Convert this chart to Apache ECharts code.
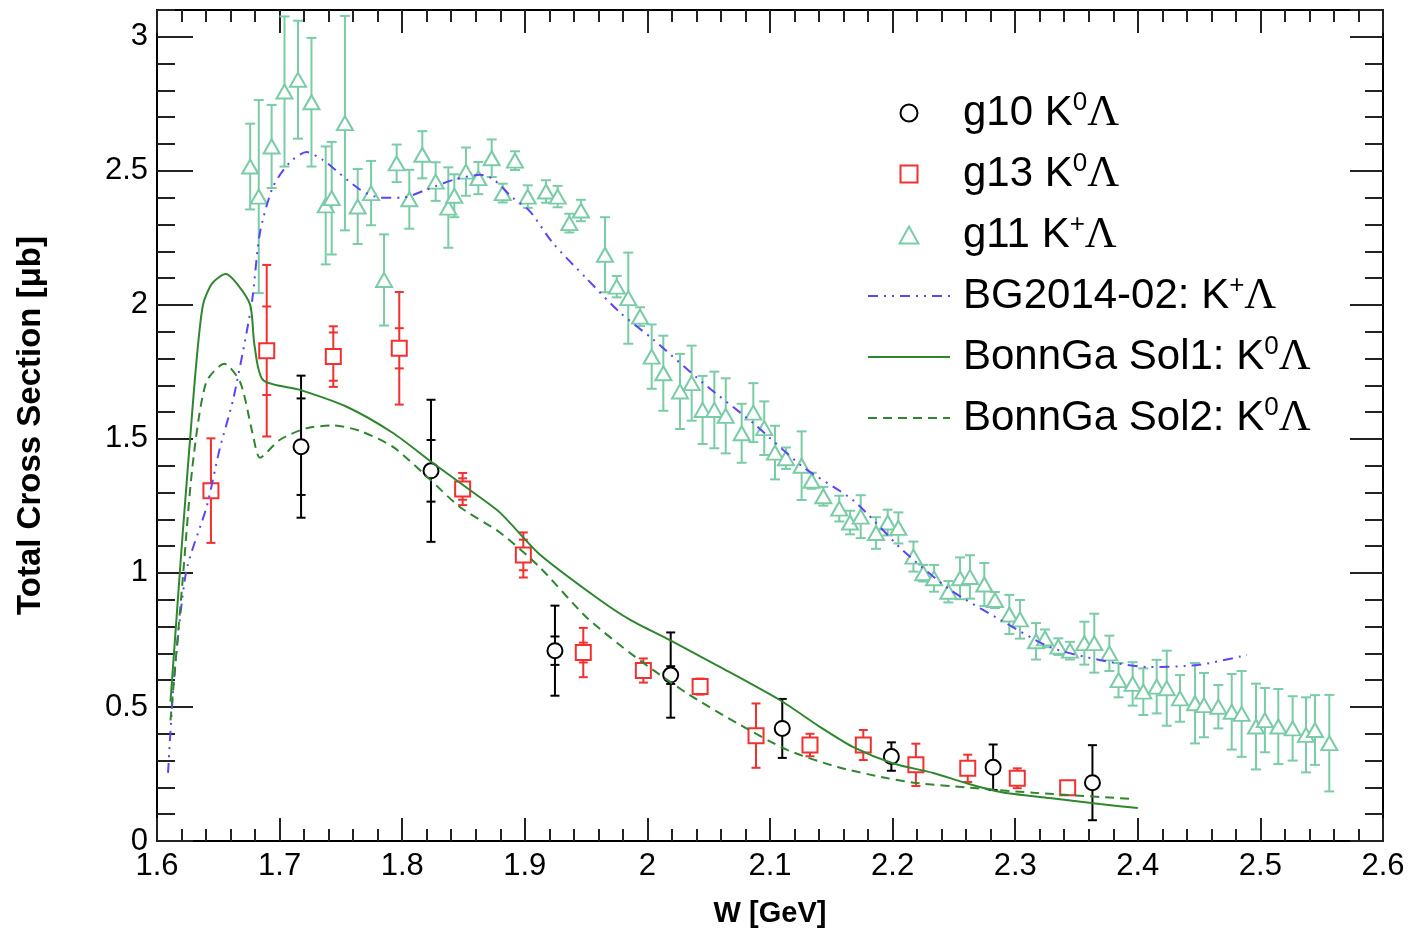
<!DOCTYPE html>
<html>
<head>
<meta charset="utf-8">
<title>Total Cross Section</title>
<script src="https://cdn.jsdelivr.net/npm/echarts@6/dist/echarts.min.js"></script>
<style>
  html, body { margin: 0; padding: 0; background: #fff; }
  #main { width: 1412px; height: 936px; }
</style>
</head>
<body>
<div id="main"></div>
<script>
// axis ticks
const xTicks = [1.6, 1.7, 1.8, 1.9, 2, 2.1, 2.2, 2.3, 2.4, 2.5, 2.6]
const yTicks = [0, 0.5, 1, 1.5, 2, 2.5, 3]

// g10 K0 Lambda (black circles)
const g10W = [1.7175, 1.8235, 1.9246, 2.019, 2.110, 2.199, 2.282, 2.363]
const g10Sigma = [1.471, 1.381, 0.71, 0.619, 0.42, 0.315, 0.275, 0.2175]
const g10ErrTot = [0.265, 0.265, 0.168, 0.159, 0.11, 0.053, 0.085, 0.14]
const g10ErrStat = [0.18, 0.115, 0.053, 0.033, 0.02, 0.02, 0.02, 0.02]

// g13 K0 Lambda (red squares)
const g13W = [1.644, 1.6895, 1.7438, 1.7976, 1.8493, 1.8988, 1.9477, 1.9967, 2.043, 2.0886, 2.1326, 2.1761, 2.219, 2.2613, 2.3017, 2.3428]
const g13Sigma = [1.307, 1.829, 1.807, 1.838, 1.313, 1.067, 0.703, 0.636, 0.576, 0.393, 0.358, 0.358, 0.284, 0.271, 0.234, 0.199]
const g13ErrTot = [0.195, 0.32, 0.113, 0.21, 0.06, 0.084, 0.092, 0.045, 0.03, 0.12, 0.042, 0.056, 0.079, 0.051, 0.037, 0.02]
const g13ErrStat = [0, 0.165, 0.09, 0.075, 0.04, 0.057, 0.037, 0.02, 0.02, 0.02, 0.02, 0.02, 0.02, 0.02, 0.02, 0.01]

// g11 K+ Lambda (green triangles)
const g11W = [1.676, 1.683, 1.6935, 1.704, 1.715, 1.726, 1.7376, 1.7425, 1.7533, 1.7637,
  1.7746, 1.7852, 1.7955, 1.8058, 1.8164, 1.8273, 1.8376, 1.8425, 1.852, 1.8621,
  1.873, 1.882, 1.892, 1.9024, 1.9173, 1.9268, 1.9363, 1.9458, 1.9654, 1.975,
  1.9844, 1.994, 2.0035, 2.013, 2.0266, 2.0361, 2.045, 2.0546, 2.0639, 2.0769,
  2.0864, 2.0953, 2.1041, 2.113, 2.1258, 2.134, 2.1435, 2.1565, 2.1653, 2.174,
  2.1865, 2.196, 2.2047, 2.217, 2.225, 2.2338, 2.2455, 2.255, 2.2631, 2.2748,
  2.2835, 2.2952, 2.3039, 2.317, 2.3243, 2.3352, 2.3447, 2.3564, 2.3645, 2.3768,
  2.3843, 2.3958, 2.4045, 2.4154, 2.4236, 2.4344, 2.4467, 2.454, 2.4657, 2.4766,
  2.4847, 2.4964, 2.5037, 2.5146, 2.5263, 2.5372, 2.5445, 2.5562]
const g11Sigma = [2.516, 2.404, 2.591, 2.796, 2.84, 2.756, 2.371, 2.398, 2.678, 2.367,
  2.417, 2.093, 2.528, 2.394, 2.56, 2.46, 2.363, 2.407, 2.497, 2.473,
  2.547, 2.417, 2.538, 2.404, 2.423, 2.404, 2.305, 2.352, 2.187, 2.068,
  2.025, 1.956, 1.807, 1.745, 1.677, 1.708, 1.608, 1.608, 1.586, 1.521,
  1.598, 1.54, 1.449, 1.428, 1.40, 1.344, 1.286, 1.24, 1.188, 1.21,
  1.149, 1.188, 1.168, 1.061, 0.999, 0.98, 0.93, 0.98, 0.985, 0.957,
  0.899, 0.845, 0.827, 0.745, 0.756, 0.725, 0.71, 0.738, 0.738, 0.70,
  0.60, 0.586, 0.557, 0.576, 0.57, 0.532, 0.514, 0.507, 0.501, 0.482,
  0.474, 0.427, 0.451, 0.427, 0.42, 0.396, 0.414, 0.365]
const g11Err = [0.16, 0.36, 0.155, 0.28, 0.22, 0.24, 0.22, 0.21, 0.40, 0.14,
  0.12, 0.17, 0.07, 0.11, 0.088, 0.072, 0.15, 0.08, 0.09, 0.06,
  0.07, 0.035, 0.035, 0.042, 0.042, 0.04, 0.035, 0.04, 0.14, 0.04,
  0.17, 0.035, 0.12, 0.14, 0.14, 0.14, 0.127, 0.143, 0.14, 0.11,
  0.11, 0.10, 0.10, 0.04, 0.128, 0.03, 0.035, 0.048, 0.044, 0.08,
  0.059, 0.048, 0.058, 0.056, 0.031, 0.05, 0.04, 0.078, 0.081, 0.08,
  0.03, 0.073, 0.072, 0.068, 0.033, 0.031, 0.033, 0.08, 0.11, 0.066,
  0.064, 0.081, 0.087, 0.10, 0.14, 0.087, 0.15, 0.12, 0.081, 0.141,
  0.16, 0.16, 0.12, 0.14, 0.12, 0.14, 0.13, 0.18]

// model curves [W, sigma]
const bg2014 = [[1.609, 0.254], [1.613, 0.55], [1.618, 0.80], [1.6245, 1.02], [1.6405, 1.247], [1.651, 1.46],
  [1.662, 1.645], [1.673, 1.895], [1.678, 2.03], [1.684, 2.27], [1.6946, 2.44], [1.708, 2.53], [1.722, 2.57],
  [1.7355, 2.54], [1.749, 2.49], [1.7656, 2.43], [1.782, 2.40], [1.80, 2.40], [1.82, 2.43], [1.8415, 2.466],
  [1.8635, 2.485], [1.874, 2.47], [1.89, 2.40], [1.904, 2.35], [1.923, 2.23], [1.95, 2.10], [1.978, 1.97],
  [2.005, 1.87], [2.045, 1.71], [2.086, 1.56], [2.127, 1.395], [2.168, 1.27], [2.208, 1.086], [2.247, 0.937],
  [2.288, 0.825], [2.328, 0.724], [2.369, 0.675], [2.41, 0.649], [2.45, 0.657], [2.489, 0.694]]
const sol1 = [[1.611, 0.52], [1.617, 0.90], [1.621, 1.15], [1.627, 1.50], [1.632, 1.78], [1.6375, 2.0],
  [1.645, 2.08], [1.656, 2.115], [1.665, 2.08], [1.676, 2.0], [1.6795, 1.85], [1.6865, 1.72], [1.7166, 1.683],
  [1.7547, 1.62], [1.7925, 1.522], [1.825, 1.41], [1.858, 1.30], [1.88, 1.224], [1.912, 1.07], [1.961, 0.90],
  [1.986, 0.825], [2.018, 0.75], [2.059, 0.65], [2.108, 0.526], [2.141, 0.425], [2.168, 0.35], [2.2, 0.29],
  [2.233, 0.254], [2.26, 0.216], [2.288, 0.183], [2.328, 0.16], [2.369, 0.138], [2.4, 0.123]]
const sol2 = [[1.611, 0.45], [1.6205, 0.95], [1.629, 1.40], [1.64, 1.71], [1.655, 1.78], [1.668, 1.71],
  [1.678, 1.52], [1.684, 1.43], [1.70, 1.496], [1.722, 1.54], [1.7435, 1.55], [1.7655, 1.53], [1.7925, 1.47],
  [1.82, 1.36], [1.847, 1.246], [1.88, 1.15], [1.912, 1.022], [1.95, 0.836], [1.99, 0.687], [2.032, 0.552],
  [2.073, 0.44], [2.114, 0.34], [2.155, 0.276], [2.195, 0.235], [2.222, 0.215], [2.26, 0.20], [2.315, 0.18],
  [2.396, 0.157]]

const BLACK = '#000000'
const RED = '#f23030'
const MINT = '#7acca6'
const GREEN = '#2f862f'
const BLUE = '#5b45f5'

const pts = (ws, ys) => ws.map((w, i) => [w, ys[i]])
const bars = (ws, ys, tot, stat) =>
  ws.map((w, i) => [w, ys[i] - tot[i], ys[i] + tot[i], stat ? ys[i] - stat[i] : 0, stat ? ys[i] + stat[i] : 0])

// vertical error bar with caps, plus small ticks for the stat. error
const errorBar = (color, cap) => (params, api) => {
  const w = api.value(0)
  const lo = api.coord([w, api.value(1)])
  const hi = api.coord([w, api.value(2)])
  const style = { stroke: color, lineWidth: 2 }
  const seg = (x1, y1, x2, y2) => ({ type: 'line', shape: { x1, y1, x2, y2 }, style })
  const children = [
    seg(lo[0], lo[1], hi[0], hi[1]),
    seg(lo[0] - cap, lo[1], lo[0] + cap, lo[1]),
    seg(hi[0] - cap, hi[1], hi[0] + cap, hi[1])
  ]
  if (api.value(4) > api.value(3)) {
    const sl = api.coord([w, api.value(3)])
    const sh = api.coord([w, api.value(4)])
    children.push(seg(sl[0] - cap, sl[1], sl[0] + cap, sl[1]))
    children.push(seg(sh[0] - cap, sh[1], sh[0] + cap, sh[1]))
  }
  return { type: 'group', children }
}

const errSeries = (data, color, cap) => ({
  type: 'custom', xAxisIndex: 0, yAxisIndex: 0, clip: true, z: 2, silent: true,
  renderItem: errorBar(color, cap), encode: { x: 0, y: [1, 2] }, data
})

const mark = (name, data, symbol, size, color) => ({
  name, type: 'scatter', xAxisIndex: 0, yAxisIndex: 0, z: 3, symbol, symbolSize: size,
  itemStyle: { color: '#fff', borderColor: color, borderWidth: 2, opacity: 1 }, data
})

const curve = (name, data, color, type) => ({
  name, type: 'line', xAxisIndex: 0, yAxisIndex: 0, z: 4, data, showSymbol: false, symbol: 'none',
  smooth: 0.25, itemStyle: { color }, lineStyle: { color, width: 2, type }
})

const FONT = 'Liberation Sans'
const axisX = (pos, labels) => ({
  type: 'value', position: pos, min: 1.6, max: 2.6, interval: 0.1,
  axisLine: { show: true, onZero: false, lineStyle: { color: '#000', width: 2 } },
  axisTick: { show: true, inside: true, length: 23, lineStyle: { color: '#222', width: 2 } },
  minorTick: { show: true, splitNumber: 5, length: 12, lineStyle: { color: '#222', width: 2 } },
  splitLine: { show: false },
  axisLabel: { show: labels, fontSize: 31, fontFamily: FONT, color: '#000', margin: 10,
    formatter: v => (xTicks.includes(+v.toFixed(2)) ? String(+v.toFixed(2)) : '') },
  name: labels ? 'W [GeV]' : '', nameLocation: 'middle', nameGap: 58,
  nameTextStyle: { fontSize: 29, fontWeight: 'bold', fontFamily: FONT, color: '#000' }
})
const axisY = (pos, interval, len, labels, line) => ({
  type: 'value', position: pos, min: 0, max: 3.1, interval,
  axisLine: { show: line, onZero: false, lineStyle: { color: '#000', width: 2 } },
  axisTick: { show: true, inside: true, length: len, lineStyle: { color: '#222', width: 2 } },
  splitLine: { show: false },
  axisLabel: { show: labels, showMaxLabel: false, fontSize: 31, fontFamily: FONT, color: '#000', margin: 9,
    formatter: v => (yTicks.includes(+v.toFixed(2)) ? String(+v.toFixed(2)) : '') },
  name: labels ? 'Total Cross Section [\u03bcb]' : '', nameLocation: 'middle', nameGap: 110,
  nameTextStyle: { fontSize: 33, fontWeight: 'bold', fontFamily: FONT, color: '#000' }
})

const legendNames = ['g10 K0\u039b', 'g13 K0\u039b', 'g11 K+\u039b', 'BG2014-02: K+\u039b', 'BonnGa Sol1: K0\u039b', 'BonnGa Sol2: K0\u039b']
const hideSym = { opacity: 0 }

const chart = echarts.init(document.getElementById('main'))
chart.setOption({
  animation: false,
  backgroundColor: '#fff',
  grid: { left: 157, right: 29, top: 10, bottom: 95, containLabel: false },
  xAxis: [axisX('bottom', true), axisX('top', false)],
  yAxis: [axisY('left', 0.5, 36, true, true), axisY('right', 0.5, 33, false, true),
    axisY('left', 0.1, 18, false, false), axisY('right', 0.1, 18, false, false)],
  legend: {
    orient: 'vertical', left: 862, top: 85, itemWidth: 82, itemHeight: 17, itemGap: 16,
    selectedMode: false,
    data: [
      { name: legendNames[0], icon: 'circle', itemStyle: { color: '#fff', borderColor: BLACK, borderWidth: 2 } },
      { name: legendNames[1], icon: 'path://M0,0L10,0L10,10L0,10Z', itemStyle: { color: '#fff', borderColor: RED, borderWidth: 2 } },
      { name: legendNames[2], icon: 'path://M5,0L10,9L0,9Z', itemStyle: { color: '#fff', borderColor: MINT, borderWidth: 2 } },
      { name: legendNames[3], itemStyle: hideSym },
      { name: legendNames[4], itemStyle: hideSym },
      { name: legendNames[5], itemStyle: hideSym }
    ],
    formatter: name => {
      const m = name.match(/^(.*K)(.)\u039b$/)
      return '{t|' + m[1] + '}{s|' + m[2] + '}{l|\u039b}'
    },
    textStyle: {
      color: '#000', fontFamily: FONT, fontSize: 42, padding: [0, 0, 0, 8],
      rich: {
        t: { fontSize: 42, fontFamily: FONT, lineHeight: 46, color: '#000' },
        s: { fontSize: 26, fontFamily: FONT, lineHeight: 24, verticalAlign: 'top', color: '#000' },
        l: { fontSize: 44, fontFamily: 'Liberation Serif', lineHeight: 46, color: '#000' }
      }
    }
  },
  series: [
    errSeries(bars(g11W, g11Sigma, g11Err), MINT, 5),
    errSeries(bars(g13W, g13Sigma, g13ErrTot, g13ErrStat), RED, 4.5),
    errSeries(bars(g10W, g10Sigma, g10ErrTot, g10ErrStat), BLACK, 4.5),
    mark(legendNames[2], pts(g11W, g11Sigma), 'triangle', [16, 14], MINT),
    mark(legendNames[1], pts(g13W, g13Sigma), 'rect', 15, RED),
    mark(legendNames[0], pts(g10W, g10Sigma), 'circle', 15, BLACK),
    curve(legendNames[3], bg2014, BLUE, [10, 6, 2, 6, 2, 6]),
    curve(legendNames[4], sol1, GREEN, 'solid'),
    curve(legendNames[5], sol2, GREEN, [9, 6])
  ]
})
</script>
</body>
</html>
